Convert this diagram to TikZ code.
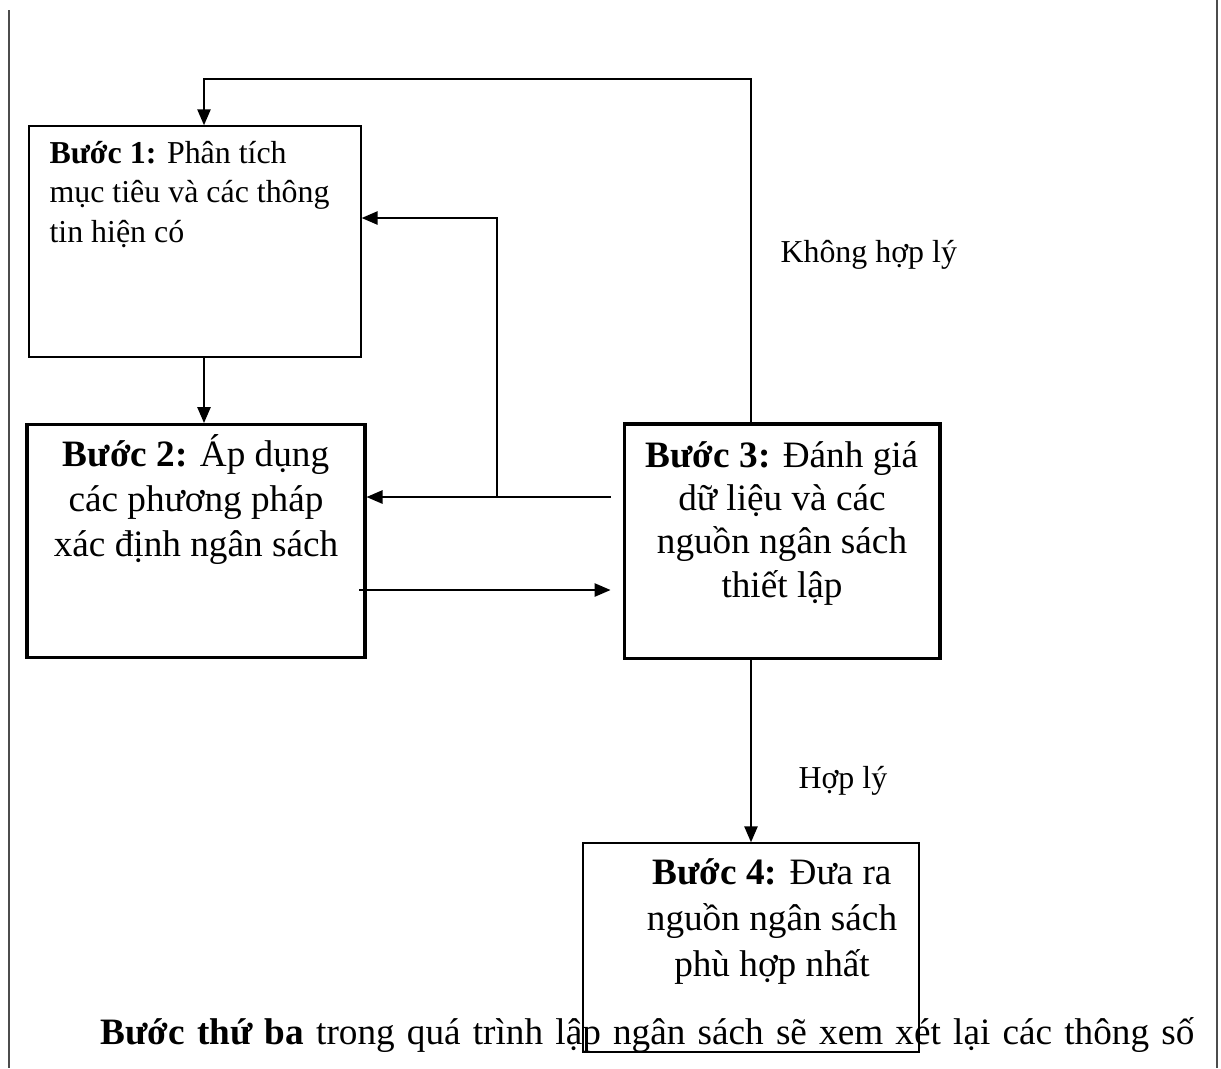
\documentclass[tikz,border=0pt]{standalone}
\usepackage{fontspec}
\setmainfont{Liberation Serif}
\usetikzlibrary{arrows.meta, positioning, calc}

\begin{document}
\begin{tikzpicture}[
  x=0.376pt, y=-0.376pt,
  box/.style={rectangle, draw=black, line width=0.55pt, inner sep=0pt},
  boldbox/.style={box, line width=1.15pt},
  txt/.style={anchor=base, inner sep=0pt, align=center, font=\fontsize{14}{16.8}\selectfont},
  note/.style={anchor=base west, inner sep=0pt, font=\fontsize{12}{14}\selectfont},
  flow/.style={-{Triangle[length=6pt, width=5pt]}, line width=0.65pt},
  margin/.style={draw=black!70, line width=0.5pt},
]
  \useasboundingbox (0,0) rectangle (1221,1068);
  \draw[margin] (9,10) -- (9,1068);
  \draw[margin] (1217,0) -- (1217,1068);

  \node[box, minimum width=124.8pt, minimum height=86.9pt] (b1) at (195,241.5) {};
  \node[boldbox, minimum width=127.1pt, minimum height=87.6pt] (b2) at (196,541) {};
  \node[boldbox, minimum width=118.8pt, minimum height=88pt] (b3) at (782,541) {};
  \node[box, minimum width=126.3pt, minimum height=78.6pt] (b4) at (751,947.5) {};

  \node[txt, anchor=base west, align=left, font=\fontsize{12}{14.85}\selectfont] (t1) at (49,242)
    {\textbf{Bước 1:} Phân tích\\mục tiêu và các thông\\tin hiện có};
  \node[txt] (t2) at (196,556) {\textbf{Bước 2:} Áp dụng\\các phương pháp\\xác định ngân sách};
  \node[txt, font=\fontsize{14}{16.2}\selectfont] (t3) at (782,597)
    {\textbf{Bước 3:} Đánh giá\\dữ liệu và các\\nguồn ngân sách\\thiết lập};
  \node[txt, font=\fontsize{14}{17.3}\selectfont] (t4) at (772,976)
    {\textbf{Bước 4:} Đưa ra\\nguồn ngân sách\\phù hợp nhất};
  \node[note] (no) at (780,262) {Không hợp lý};
  \node[note] (yes) at (798,788) {Hợp lý};
  \node[txt, anchor=base west] (para) at (100,1044)
    {\makebox[411.3pt][s]{\textbf{Bước thứ ba} trong quá trình lập ngân sách sẽ xem xét lại các thông số}};

  \coordinate (lane) at (204,79);
  \coordinate (back) at (497,497);
  \coordinate (up) at (497,218);
  \coordinate (fwd) at (359,590);
  \draw[flow] (b3.north -| b4.north) |- (lane) -- (b1.north -| lane);
  \draw[flow] (b1.south -| lane) -- (b2.north -| lane);
  \draw[flow, shorten <=4.5pt] (b3.west |- back) -- (b2.east |- back);
  \draw[flow] (back) -- (up) -- (b1.east |- up);
  \draw[flow, shorten >=4.5pt] (fwd) -- (b3.west |- fwd);
  \draw[flow] (b3.south -| b4.north) -- (b4.north);
\end{tikzpicture}
\end{document}
